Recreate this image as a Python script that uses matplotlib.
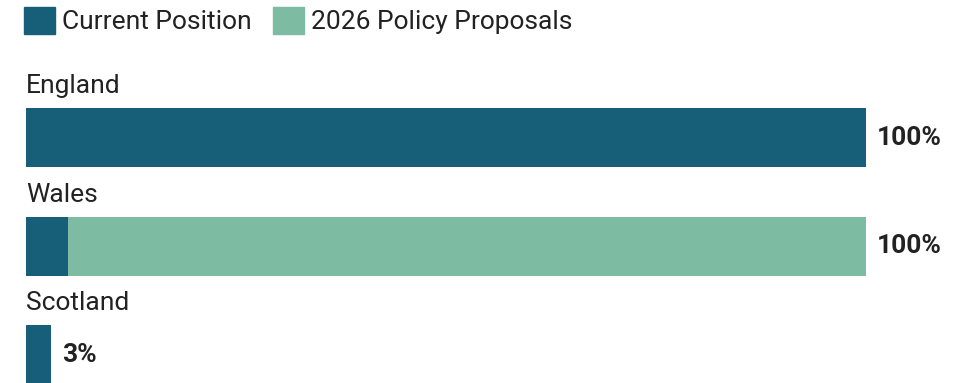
import matplotlib.pyplot as plt
from matplotlib.patches import Patch

plt.rcParams['font.family'] = ['Roboto', 'DejaVu Sans']

regions = ['England', 'Wales', 'Scotland']
current = [100, 5, 3]
proposals = [0, 95, 0]
totals = ['100%', '100%', '3%']
series_names = ['Current Position', '2026 Policy Proposals']

c_current = '#175e79'
c_proposal = '#7dbba3'
text_col = '#222222'

W, H = 966, 383
fig = plt.figure(figsize=(W / 100, H / 100), dpi=100)
ax = fig.add_axes([26 / W, 0, 840 / W, 1])

# bar centres at 137.5 + 108.5*i pixels, height 59 px
step = 108.5
bar_h = 59 / step
ax.set_xlim(0, 100)
ax.set_ylim((H - 137.5) / step, -137.5 / step)

ypos = list(range(len(regions)))
ax.barh(ypos, current, height=bar_h, color=c_current)
ax.barh(ypos, proposals, left=current, height=bar_h, color=c_proposal)

for i, name in enumerate(regions):
    ax.annotate(name, (0, i - bar_h / 2), xytext=(0, 10), textcoords='offset pixels',
                ha='left', va='bottom', fontsize=19, color=text_col)
    end = current[i] + proposals[i]
    ax.annotate(totals[i], (end, i), xytext=(11, 0), textcoords='offset pixels',
                ha='left', va='center', fontsize=19, fontweight='bold', color=text_col)

ax.axis('off')

handles = [Patch(color=c_current), Patch(color=c_proposal)]
fig.legend(handles, series_names, loc='upper left', bbox_to_anchor=(24 / W, 1 - 7 / H),
           ncol=2, frameon=False, fontsize=19, handlelength=1.17, handleheight=1.17,
           handletextpad=0.28, columnspacing=0.8, borderpad=0, borderaxespad=0,
           labelcolor=text_col)

fig.savefig('out.png', dpi=100)
